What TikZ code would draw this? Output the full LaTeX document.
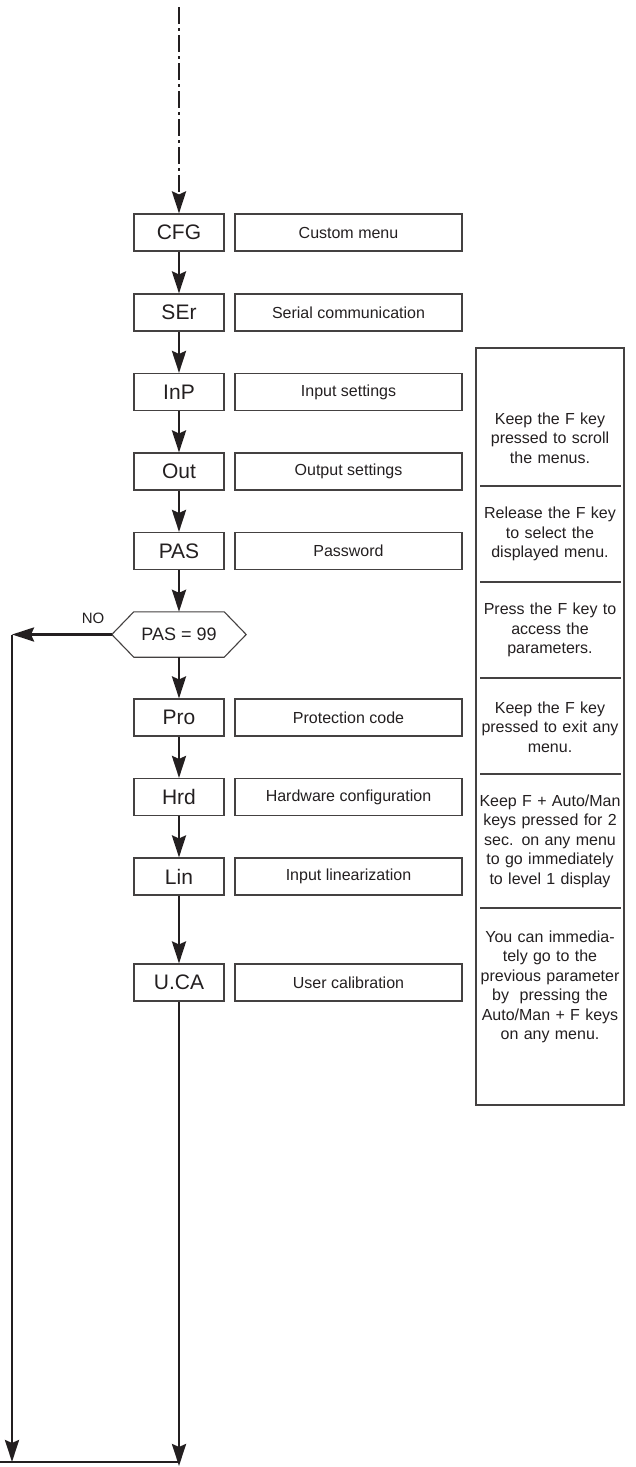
\documentclass[tikz,border=0pt]{standalone}
\usepackage{fontspec}
\setmainfont{Liberation Sans}
\usetikzlibrary{arrows.meta}
\definecolor{ink}{HTML}{231F20}
\tikzset{
  code/.style={draw=ink!85, line width=1.1pt, minimum width=90pt, minimum height=37pt, inner sep=0pt, font=\fontsize{21}{24}\selectfont, text=ink},
  desc/.style={draw=ink!85, line width=1.1pt, minimum width=227pt, minimum height=37pt, inner sep=0pt, font=\fontsize{16}{19}\selectfont, text=ink},
  note/.style={align=center, text width=146pt, inner sep=0pt, font=\fontsize{16}{19.5}\selectfont, text=ink},
  arr/.style={draw=ink, line width=2.8pt, -{Stealth[length=22pt,width=14pt,inset=3pt]}},
  flow/.style={draw=ink, line width=2.8pt},
  divider/.style={draw=ink!85, line width=1.1pt},
}
\begin{document}
\begin{tikzpicture}[x=1pt,y=-1pt]
\useasboundingbox (0,0) rectangle (636,1467);
% menu codes
\node[code] (cfg) at (179,232.5) {CFG};
\node[code] (ser) at (179,312.5) {SEr};
\node[code] (inp) at (179,392) {InP};
\node[code] (out) at (179,471.5) {Out};
\node[code] (pas) at (179,551) {PAS};
\node[minimum width=134pt, minimum height=45pt, inner sep=0pt, font=\fontsize{18}{22}\selectfont, text=ink] (dia) at (179,634.5) {PAS = 99};
\draw[draw=ink!85, line width=1.1pt] (dia.west) -- ([xshift=22pt]dia.north west) -- ([xshift=-22pt]dia.north east) -- (dia.east) -- ([xshift=-22pt]dia.south east) -- ([xshift=22pt]dia.south west) -- cycle;
\node[code] (pro) at (179,717.5) {Pro};
\node[code] (hrd) at (179,797) {Hrd};
\node[code] (lin) at (179,876.5) {Lin};
\node[code] (uca) at (179,982.5) {U.CA};
% descriptions
\node[desc] (dcfg) at (348.5,232.5) {Custom menu};
\node[desc] (dser) at (348.5,312.5) {Serial communication};
\node[desc] (dinp) at (348.5,392) {Input settings};
\node[desc] (dout) at (348.5,471.5) {Output settings};
\node[desc] (dpas) at (348.5,551) {Password};
\node[desc] (dpro) at (348.5,717.5) {Protection code};
\node[desc] (dhrd) at (348.5,797) {Hardware configuration};
\node[desc] (dlin) at (348.5,876.5) {Input linearization};
\node[desc] (duca) at (348.5,982.5) {User calibration};
% NO label
\node[font=\fontsize{15}{18}\selectfont, text=ink, inner sep=0pt] (no) at (93,618) {NO};
% coordinates
\coordinate (top) at (179,7);
\coordinate (c1) at (12,634.5);
\coordinate (c2) at (12,1462);
\coordinate (c3) at (179,1466);
\coordinate (c4) at (0,1462);
\coordinate (c5) at (179,1462);
% connectors
\draw[arr, dash pattern=on 17pt off 4pt on 2.5pt off 4.5pt] (top) -- (cfg.north);
\draw[arr] (cfg) -- (ser);
\draw[arr] (ser) -- (inp);
\draw[arr] (inp) -- (out);
\draw[arr] (out) -- (pas);
\draw[arr] (pas) -- (dia);
\draw[arr] (dia) -- (pro);
\draw[arr] (pro) -- (hrd);
\draw[arr] (hrd) -- (lin);
\draw[arr] (lin) -- (uca);
\draw[arr] (dia.west) -- (c1);
\draw[arr] (c1) -- (c2);
\draw[arr] (uca) -- (c3);
\draw[flow] (c4) -- (c5);
% right panel
\node[draw=ink!85, line width=1.1pt, minimum width=148pt, minimum height=757pt, inner sep=0pt] (panel) at (550,726.5) {};
\draw[divider] (480,486) -- (621,486);
\draw[divider] (480,582) -- (621,582);
\draw[divider] (480,678) -- (621,678);
\draw[divider] (480,774) -- (621,774);
\draw[divider] (480,908) -- (621,908);
\node[note] (n1) at (550,438) {Keep the F key\\pressed to scroll\\the menus.};
\node[note] (n2) at (550,534) {Release the F key\\to select the\\displayed menu.};
\node[note] (n3) at (550,630) {Press the F key to\\access the\\parameters.};
\node[note] (n4) at (550,727) {Keep the F key\\pressed to exit any\\menu.};
\node[note] (n5) at (550,841) {Keep F + Auto/Man\\keys pressed for 2\\sec. on any menu\\to go immediately\\to level 1 display};
\node[note] (n6) at (550,987) {You can immedia-\\tely go to the\\previous parameter\\by\ \ pressing the\\Auto/Man + F keys\\on any menu.};
\end{tikzpicture}
\end{document}
